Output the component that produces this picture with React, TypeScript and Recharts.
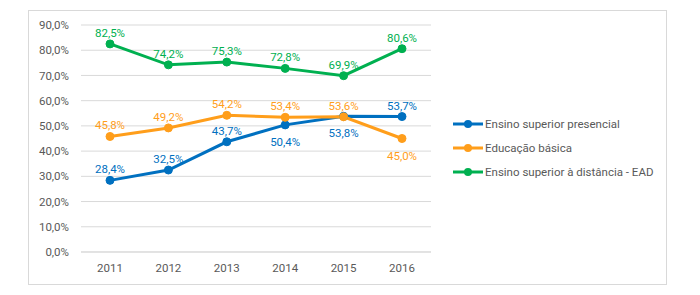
import { CartesianGrid, LabelList, Line, LineChart, XAxis, YAxis } from "recharts";

const years = ["2011", "2012", "2013", "2014", "2015", "2016"];
const presencial = [28.4, 32.5, 43.7, 50.4, 53.8, 53.7];
const basica = [45.8, 49.2, 54.2, 53.4, 53.6, 45.0];
const distancia = [82.5, 74.2, 75.3, 72.8, 69.9, 80.6];
const yTicks = [0, 10, 20, 30, 40, 50, 60, 70, 80, 90];

// where each data label sits relative to its point
const presencialBelow = [false, false, false, true, true, false];
const basicaBelow = [false, false, false, false, false, true];
const distanciaBelow = [false, false, false, false, false, false];

const FONT = "Roboto, 'Liberation Sans', sans-serif";
const BLUE = "#0070C0";
const ORANGE = "#FF9E1B";
const GREEN = "#00B050";

const pct = (v: number) => v.toFixed(1).replace(".", ",") + "%";

const data = years.map((year, i) => ({
  year,
  presencial: presencial[i],
  basica: basica[i],
  distancia: distancia[i],
}));

const series = [
  { key: "presencial", name: "Ensino superior presencial", color: BLUE, below: presencialBelow },
  { key: "basica", name: "Educação básica", color: ORANGE, below: basicaBelow },
  { key: "distancia", name: "Ensino superior à distância - EAD", color: GREEN, below: distanciaBelow },
];

function makeLabel(color: string, below: boolean[]) {
  return (props: any) => {
    const { x, y, value, index } = props;
    const dy = below[index] ? 17 : -11;
    return (
      <text
        x={x}
        y={y + dy}
        textAnchor="middle"
        dominantBaseline="central"
        fill={color}
        fontSize={11.5}
        fontFamily={FONT}
      >
        {pct(value)}
      </text>
    );
  };
}

function LegendBox() {
  return (
    <div
      style={{
        position: "absolute",
        left: 453,
        top: 112,
        fontFamily: FONT,
        fontSize: 11.5,
        color: "#595959",
      }}
    >
      {series.map((s) => (
        <div key={s.key} style={{ display: "flex", alignItems: "center", height: 24 }}>
          <svg width={30} height={10} style={{ marginRight: 2 }}>
            <line x1={0} y1={5} x2={30} y2={5} stroke={s.color} strokeWidth={3} />
            <circle cx={15} cy={5} r={4} fill={s.color} />
          </svg>
          <span>{s.name}</span>
        </div>
      ))}
    </div>
  );
}

export default function App() {
  return (
    <div style={{ position: "relative", width: 700, height: 295, margin: -8, background: "#fff" }}>
      <div
        style={{
          position: "absolute",
          left: 28,
          top: 10,
          width: 639,
          height: 275,
          border: "1px solid #d9d9d9",
          boxSizing: "border-box",
        }}
      >
        <LineChart
          width={639}
          height={275}
          data={data}
          margin={{ top: 15, right: 236, left: 0, bottom: 0 }}
          style={{ position: "absolute", left: -1, top: -1 }}
        >
          <CartesianGrid vertical={false} stroke="#d9d9d9" />
          <XAxis
            dataKey="year"
            height={33}
            padding={{ left: 29, right: 29 }}
            axisLine={{ stroke: "#d9d9d9" }}
            tickLine={false}
            tickSize={6}
            tickMargin={6}
            interval={0}
            tick={{ fontSize: 11.5, fill: "#595959", fontFamily: FONT }}
          />
          <YAxis
            width={53}
            domain={[0, 90]}
            ticks={yTicks}
            axisLine={false}
            tickLine={false}
            tickSize={6}
            tickMargin={6}
            tickFormatter={pct}
            tick={{ fontSize: 11.5, fill: "#595959", fontFamily: FONT }}
          />
          {series.map((s) => (
            <Line
              key={s.key}
              type="linear"
              dataKey={s.key}
              name={s.name}
              stroke={s.color}
              strokeWidth={3}
              dot={{ r: 4, fill: s.color, stroke: s.color, strokeWidth: 1 }}
              activeDot={false}
              isAnimationActive={false}
            >
              <LabelList dataKey={s.key} content={makeLabel(s.color, s.below)} />
            </Line>
          ))}
        </LineChart>
      </div>
      <LegendBox />
    </div>
  );
}
